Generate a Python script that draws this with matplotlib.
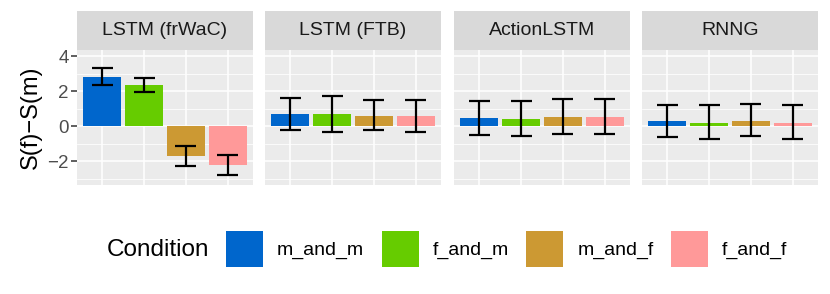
import matplotlib
matplotlib.use("Agg")
import matplotlib.pyplot as plt
from matplotlib.patches import Patch
import numpy as np

plt.rcParams['font.family'] = ['Liberation Sans', 'DejaVu Sans']

# data
models = ['LSTM (frWaC)', 'LSTM (FTB)', 'ActionLSTM', 'RNNG']
conditions = ['m_and_m', 'f_and_m', 'm_and_f', 'f_and_f']
colors = ['#0066CC', '#66CC00', '#CC9933', '#FF9999']

means = [
    [2.83, 2.35, -1.69, -2.21],
    [0.72, 0.72, 0.60, 0.58],
    [0.46, 0.43, 0.54, 0.54],
    [0.29, 0.21, 0.31, 0.21],
]
err_hi = [
    [3.32, 2.76, -1.12, -1.64],
    [1.64, 1.73, 1.49, 1.49],
    [1.45, 1.43, 1.54, 1.54],
    [1.23, 1.20, 1.25, 1.20],
]
err_lo = [
    [2.35, 1.97, -2.27, -2.79],
    [-0.19, -0.31, -0.23, -0.35],
    [-0.48, -0.54, -0.44, -0.44],
    [-0.62, -0.73, -0.58, -0.71],
]
y_ticks = [-2, 0, 2, 4]

W, H = 830, 294
fig = plt.figure(figsize=(W / 100, H / 100), dpi=100)

panel_x = [77, 265, 454, 642]
panel_w = 176
top, bottom, strip_top = 50, 185, 11

x = np.arange(len(conditions))
for i, model in enumerate(models):
    ax = fig.add_axes([panel_x[i] / W, 1 - bottom / H, panel_w / W, (bottom - top) / H])
    ax.set_facecolor('#EBEBEB')
    for s in ax.spines.values():
        s.set_visible(False)
    ax.set_xlim(-0.6, 3.6)
    ax.set_ylim(-3.35, 4.35)
    ax.set_yticks(y_ticks)
    ax.set_yticks([-3, -1, 1, 3], minor=True)
    ax.set_xticks(x)
    ax.grid(True, which='major', color='white', lw=1.1)
    ax.grid(True, which='minor', axis='y', color='white', lw=0.55)
    ax.set_axisbelow(True)
    ax.tick_params(axis='x', length=0, labelbottom=False)
    ax.tick_params(axis='y', which='minor', length=0)
    if i == 0:
        ax.tick_params(axis='y', which='major', length=4, width=1.1, color='#333333',
                       labelsize=13.5, labelcolor='#4D4D4D', pad=2)
        ax.set_ylabel('S(f)\u2212S(m)', fontsize=17, labelpad=4)
    else:
        ax.tick_params(axis='y', which='major', length=0, labelleft=False)

    ax.bar(x, means[i], width=0.9, color=colors, zorder=2)
    ax.vlines(x, err_lo[i], err_hi[i], color='black', lw=1.6, zorder=3)
    ax.hlines(err_lo[i], x - 0.25, x + 0.25, color='black', lw=1.6, zorder=3)
    ax.hlines(err_hi[i], x - 0.25, x + 0.25, color='black', lw=1.6, zorder=3)

    sax = fig.add_axes([panel_x[i] / W, 1 - top / H, panel_w / W, (top - strip_top) / H])
    sax.set_facecolor('#D9D9D9')
    sax.set_xticks([])
    sax.set_yticks([])
    for s in sax.spines.values():
        s.set_visible(False)
    sax.text(0.5, 0.5, model, ha='center', va='center', fontsize=14, color='#1A1A1A',
             transform=sax.transAxes)

handles = [Patch(facecolor=c, edgecolor='none') for c in colors]
fig.text(107 / W, 1 - 250 / H, 'Condition', fontsize=17.5, va='center', ha='left')
fig.legend(handles, conditions, loc='center left', bbox_to_anchor=(226 / W, 1 - 249 / H),
           ncol=4, frameon=False, fontsize=14, handlelength=1.9, handleheight=2.55,
           handletextpad=0.72, columnspacing=0.9, borderpad=0, borderaxespad=0)

fig.savefig('out.png', dpi=100)
